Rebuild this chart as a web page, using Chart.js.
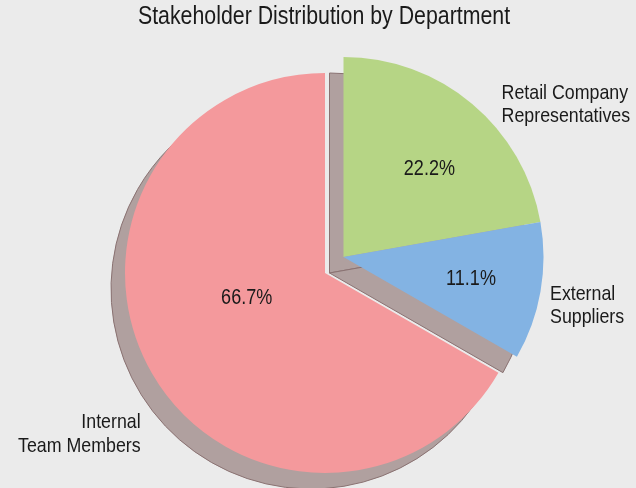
<!DOCTYPE html>
<html>
<head>
<meta charset="utf-8">
<script src="https://cdn.jsdelivr.net/npm/chart.js@4.4.0/dist/chart.umd.min.js"></script>
<style>
  html, body { margin: 0; padding: 0; background: #ebebeb; }
  #wrap { width: 636px; height: 488px; }
</style>
</head>
<body>
<div id="wrap"><canvas id="c" width="636" height="488"></canvas></div>
<script>
// ---- data ----
const chartTitle = 'Stakeholder Distribution by Department';
const categories = ['Retail Company\nRepresentatives', 'External\nSuppliers', 'Internal\nTeam Members'];
const shares = [22.2, 11.1, 66.7];
const explodedSlices = [0, 1];

// ---- styles ----
const sliceColors = ['#b6d585', '#83b3e3', '#f4999c'];
const FONT = "'Liberation Sans', Arimo, Arial, sans-serif";
// text placement relative to each slice's drawn centre: angle (deg, clockwise from top) and radius fraction
const pctPlacement = [{a: 44.3, d: 0.615}, {a: 99.8, d: 0.647}, {a: 252.3, d: 0.411}];
const labelPlacement = [{a: 46.1, d: 1.097, align: 'left'}, {a: 103.3, d: 1.061, align: 'left'}, {a: 228.8, d: 1.225, align: 'right'}];

function narrowText(ctx, text, x, y, size, align, sx) {
  ctx.save();
  ctx.translate(x, y);
  ctx.scale(sx, 1);
  ctx.font = size + 'px ' + FONT;
  ctx.textAlign = align;
  ctx.textBaseline = 'middle';
  ctx.fillStyle = '#1a1a1a';
  ctx.fillText(text, 0, 0);
  ctx.restore();
}

const piePlugin = {
  id: 'explodedShadowPie',
  beforeDatasetsDraw(chart, args, opts) {
    const ctx = chart.ctx;
    const arcs = chart.getDatasetMeta(0).data;
    const offs = arcs.map((a, i) => explodedSlices.includes(i) ? opts.explode : {x: 0, y: 0});
    // shadows
    arcs.forEach((arc, i) => {
      const p = arc.getProps(['x', 'y', 'startAngle', 'endAngle', 'outerRadius'], true);
      ctx.save();
      ctx.translate(offs[i].x + opts.shadow.x, offs[i].y + opts.shadow.y);
      ctx.beginPath();
      ctx.moveTo(p.x, p.y);
      ctx.arc(p.x, p.y, p.outerRadius, p.startAngle, p.endAngle);
      ctx.closePath();
      ctx.fillStyle = opts.shadow.color;
      ctx.fill();
      ctx.lineWidth = 1;
      ctx.strokeStyle = opts.shadow.edge;
      ctx.stroke();
      ctx.restore();
    });
    // slices
    arcs.forEach((arc, i) => {
      ctx.save();
      ctx.translate(offs[i].x, offs[i].y);
      arc.draw(ctx, chart.chartArea);
      ctx.restore();
    });
    // title
    narrowText(ctx, chartTitle, (chart.chartArea.left + chart.chartArea.right) / 2 - 1, 17, 26, 'center', 0.82);
    // slice texts
    const total = shares.reduce((s, v) => s + v, 0);
    arcs.forEach((arc, i) => {
      const p = arc.getProps(['x', 'y', 'outerRadius'], true);
      const cx = p.x + offs[i].x, cy = p.y + offs[i].y;
      const r = p.outerRadius;
      const pp = pctPlacement[i];
      const pa = pp.a * Math.PI / 180;
      narrowText(ctx, (shares[i] / total * 100).toFixed(1) + '%',
        cx + Math.sin(pa) * r * pp.d, cy - Math.cos(pa) * r * pp.d, 22, 'center', 0.82);
      const lp = labelPlacement[i];
      const la = lp.a * Math.PI / 180;
      const lx = cx + Math.sin(la) * r * lp.d, ly = cy - Math.cos(la) * r * lp.d;
      const lines = categories[i].split('\n');
      const lh = 23.5;
      lines.forEach((ln, k) => {
        narrowText(ctx, ln, lx, ly + (k - (lines.length - 1) / 2) * lh, 20.7, lp.align, 0.86);
      });
    });
    return false;
  }
};

new Chart(document.getElementById('c'), {
  type: 'pie',
  data: {
    labels: categories.map(c => c.replace('\n', ' ')),
    datasets: [{
      data: shares,
      backgroundColor: sliceColors,
      borderWidth: 0,
      radius: 200
    }]
  },
  options: {
    responsive: false,
    animation: false,
    rotation: 0,
    layout: { padding: { left: 14, right: 0, top: 58, bottom: 0 } },
    plugins: {
      legend: { display: false },
      tooltip: { enabled: false },
      title: { display: false },
      explodedShadowPie: {
        explode: { x: 18.5, y: -16 },
        shadow: { x: -14, y: 16, color: '#b0a09f', edge: '#8a7272' }
      }
    }
  },
  plugins: [piePlugin, {
    id: 'bg',
    beforeDraw(chart) {
      const c = chart.ctx;
      c.save();
      c.fillStyle = '#ebebeb';
      c.fillRect(0, 0, chart.width, chart.height);
      c.restore();
    }
  }]
});
</script>
</body>
</html>
